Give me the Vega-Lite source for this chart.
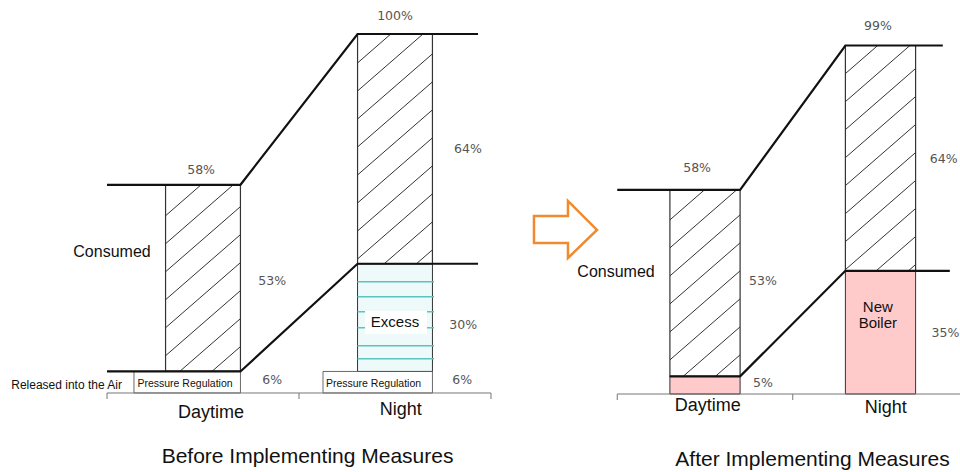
{
  "$schema": "https://vega.github.io/schema/vega-lite/v6.json",
  "padding": 0,
  "spacing": 0,
  "bounds": "flush",
  "background": "white",
  "config": {"view": {"stroke": null}, "font": "Liberation Sans"},
  "hconcat": [
    {
      "width": 480,
      "height": 472,
      "encoding": {
        "x": {"field": "x", "type": "quantitative", "scale": {"domain": [-1.1146, 3.8854], "nice": false, "zero": false}, "axis": null},
        "y": {"field": "y", "type": "quantitative", "scale": {"domain": [-22.006, 109.47], "nice": false, "zero": false}, "axis": null}
      },
      "layer": [
        {
          "data": {"values": [{"part": "Excess", "x": 2.61, "x2": 3.39, "y": 6, "y2": 36}]},
          "mark": {"type": "rect", "fill": "#eefafa", "stroke": "#333", "strokeWidth": 1},
          "encoding": {"x2": {"field": "x2"}, "y2": {"field": "y2"}}
        },
        {
          "data": {"values": [
            {"part": "Daytime consumed", "x": 0.61, "x2": 1.39, "y": 6, "y2": 58},
            {"part": "Night consumed", "x": 2.61, "x2": 3.39, "y": 36, "y2": 100}
          ]},
          "mark": {"type": "rect", "fill": "white", "stroke": "#333", "strokeWidth": 1.2},
          "encoding": {"x2": {"field": "x2"}, "y2": {"field": "y2"}}
        },
        {
          "data": {"values": [{"x": 1, "y": 58}]},
          "mark": {"type": "point", "filled": false, "stroke": "#333", "strokeWidth": 1, "opacity": 1, "size": 4,
            "shape": "M-37.5 31L-1.9 0M-37.5 59L30.3 0M-37.5 87L37.5 21.8M-37.5 115L37.5 49.8M-37.5 143L37.5 77.8M-37.5 171L37.5 105.8M-23.7 187L37.5 133.8M8.5 187L37.5 161.8"}
        },
        {
          "data": {"values": [{"x": 3, "y": 100}]},
          "mark": {"type": "point", "filled": false, "stroke": "#333", "strokeWidth": 1, "opacity": 1, "size": 4,
            "shape": "M-37.5 29L-4.2 0M-37.5 57L28 0M-37.5 85L37.5 19.8M-37.5 113L37.5 47.8M-37.5 141L37.5 75.8M-37.5 169L37.5 103.8M-37.5 197L37.5 131.8M-37.5 225L37.5 159.8M-11.1 230L37.5 187.8M21.1 230L37.5 215.8"}
        },
        {
          "data": {"values": [{"x": 3, "y": 36}]},
          "mark": {"type": "point", "filled": false, "stroke": "#5cc3bf", "strokeWidth": 1.5, "opacity": 1, "size": 4,
            "shape": "M-37.5 18L39 18M-37.5 33L39 33M-37.5 48L39 48M-37.5 64L39 64M-37.5 82L39 82M-37.5 95L39 95"}
        },
        {
          "data": {"values": [
            {"part": "Pressure Regulation (day)", "x": 0.281, "x2": 1.39, "y": 0, "y2": 6},
            {"part": "Pressure Regulation (night)", "x": 2.25, "x2": 3.39, "y": 0, "y2": 6}
          ]},
          "mark": {"type": "rect", "fill": "white", "stroke": "#444", "strokeWidth": 0.8},
          "encoding": {"x2": {"field": "x2"}, "y2": {"field": "y2"}}
        },
        {
          "data": {"values": [{"x": 3, "y": 19.8}]},
          "mark": {"type": "point", "filled": true, "fill": "white", "strokeWidth": 0, "opacity": 1, "size": 4,
            "shape": "M-30 -11L32 -11L32 12L-30 12Z"}
        },
        {
          "data": {"values": [
            {"s": "upper", "i": 0, "x": 0, "y": 58},
            {"s": "upper", "i": 1, "x": 1.39, "y": 58},
            {"s": "upper", "i": 2, "x": 2.61, "y": 100},
            {"s": "upper", "i": 3, "x": 3.865, "y": 100},
            {"s": "lower", "i": 0, "x": 0, "y": 6},
            {"s": "lower", "i": 1, "x": 1.39, "y": 6},
            {"s": "lower", "i": 2, "x": 2.61, "y": 36},
            {"s": "lower", "i": 3, "x": 3.865, "y": 36}
          ]},
          "mark": {"type": "line", "color": "#111", "strokeWidth": 2.2},
          "encoding": {"detail": {"field": "s"}, "order": {"field": "i", "type": "quantitative"}}
        },
        {
          "data": {"values": [{"x": 0, "x2": 4, "y": 0}]},
          "mark": {"type": "rule", "color": "#777", "strokeWidth": 1},
          "encoding": {"x2": {"field": "x2"}}
        },
        {
          "data": {"values": [{"x": 0, "y": 0}, {"x": 2, "y": 0}, {"x": 4, "y": 0}]},
          "mark": {"type": "tick", "orient": "vertical", "size": 6, "thickness": 1, "color": "#777", "yOffset": 3, "opacity": 1}
        },
        {
          "data": {"values": [
            {"t": "58%", "x": 0.98, "y": 62.1},
            {"t": "100%", "x": 3.0, "y": 105.0},
            {"t": "64%", "x": 3.76, "y": 68.1},
            {"t": "53%", "x": 1.72, "y": 31.2},
            {"t": "30%", "x": 3.71, "y": 18.9},
            {"t": "6%", "x": 1.72, "y": 3.6},
            {"t": "6%", "x": 3.70, "y": 3.6}
          ]},
          "mark": {"type": "text", "font": "DejaVu Sans", "fontSize": 12.5, "fill": "#555", "align": "center", "baseline": "middle"},
          "encoding": {"text": {"field": "t"}}
        },
        {
          "data": {"values": [{"t": "Consumed", "x": 0.052, "y": 38.0}]},
          "mark": {"type": "text", "fontSize": 16, "fill": "#111", "align": "center", "baseline": "alphabetic"},
          "encoding": {"text": {"field": "t"}}
        },
        {
          "data": {"values": [{"t": "Excess", "x": 3.0, "y": 18.3}]},
          "mark": {"type": "text", "fontSize": 15, "fill": "#111", "align": "center", "baseline": "alphabetic"},
          "encoding": {"text": {"field": "t"}}
        },
        {
          "data": {"values": [{"t": "Released into the Air", "x": 0.156, "y": 1.1}]},
          "mark": {"type": "text", "fontSize": 12, "fill": "#111", "align": "right", "baseline": "alphabetic"},
          "encoding": {"text": {"field": "t"}}
        },
        {
          "data": {"values": [{"t": "Pressure Regulation", "x": 0.8125, "y": 1.7}, {"t": "Pressure Regulation", "x": 2.776, "y": 1.7}]},
          "mark": {"type": "text", "fontSize": 10.5, "fill": "#111", "align": "center", "baseline": "alphabetic"},
          "encoding": {"text": {"field": "t"}}
        },
        {
          "data": {"values": [{"t": "Daytime", "x": 1.083, "y": -7.0}, {"t": "Night", "x": 3.06, "y": -6.1}]},
          "mark": {"type": "text", "fontSize": 18, "fill": "#111", "align": "center", "baseline": "alphabetic"},
          "encoding": {"text": {"field": "t"}}
        },
        {
          "data": {"values": [{"t": "Before Implementing Measures", "x": 2.089, "y": -19.5}]},
          "mark": {"type": "text", "fontSize": 21, "fill": "#111", "align": "center", "baseline": "alphabetic"},
          "encoding": {"text": {"field": "t"}}
        }
      ]
    },
    {
      "width": 480,
      "height": 472,
      "encoding": {
        "x": {"field": "x", "type": "quantitative", "scale": {"domain": [-1.5641, 3.906], "nice": false, "zero": false}, "axis": null},
        "y": {"field": "y", "type": "quantitative", "scale": {"domain": [-22.159, 111.932], "nice": false, "zero": false}, "axis": null}
      },
      "layer": [
        {
          "data": {"values": [
            {"part": "Daytime new boiler", "x": 0.6, "x2": 1.4, "y": 0, "y2": 5},
            {"part": "Night new boiler", "x": 2.6, "x2": 3.4, "y": 0, "y2": 35}
          ]},
          "mark": {"type": "rect", "fill": "#ffcaca", "stroke": "#333", "strokeWidth": 1},
          "encoding": {"x2": {"field": "x2"}, "y2": {"field": "y2"}}
        },
        {
          "data": {"values": [
            {"part": "Daytime consumed", "x": 0.6, "x2": 1.4, "y": 5, "y2": 58},
            {"part": "Night consumed", "x": 2.6, "x2": 3.4, "y": 35, "y2": 99}
          ]},
          "mark": {"type": "rect", "fill": "white", "stroke": "#333", "strokeWidth": 1.2},
          "encoding": {"x2": {"field": "x2"}, "y2": {"field": "y2"}}
        },
        {
          "data": {"values": [{"x": 1, "y": 58}]},
          "mark": {"type": "point", "filled": false, "stroke": "#333", "strokeWidth": 1, "opacity": 1, "size": 4,
            "shape": "M-35 30L-0.5 0M-35 58L31.7 0M-35 86L35 25.1M-35 114L35 53.1M-35 142L35 81.1M-35 170L35 109.1M-22.4 187L35 137.1M9.8 187L35 165.1"}
        },
        {
          "data": {"values": [{"x": 3, "y": 99}]},
          "mark": {"type": "point", "filled": false, "stroke": "#333", "strokeWidth": 1, "opacity": 1, "size": 4,
            "shape": "M-35 28L-2.8 0M-35 56L29.4 0M-35 84L35 23.1M-35 112L35 51.1M-35 140L35 79.1M-35 168L35 107.1M-35 196L35 135.1M-35 224L35 163.1M-4 225L35 191.1M28.2 225L35 219.1"}
        },
        {
          "data": {"values": [
            {"s": "upper", "i": 0, "x": 0, "y": 58},
            {"s": "upper", "i": 1, "x": 1.4, "y": 58},
            {"s": "upper", "i": 2, "x": 2.6, "y": 99},
            {"s": "upper", "i": 3, "x": 3.71, "y": 99},
            {"s": "lower", "i": 0, "x": 0.6, "y": 5},
            {"s": "lower", "i": 1, "x": 1.4, "y": 5},
            {"s": "lower", "i": 2, "x": 2.6, "y": 35},
            {"s": "lower", "i": 3, "x": 3.79, "y": 35}
          ]},
          "mark": {"type": "line", "color": "#111", "strokeWidth": 2.2},
          "encoding": {"detail": {"field": "s"}, "order": {"field": "i", "type": "quantitative"}}
        },
        {
          "data": {"values": [{"x": 0, "x2": 4, "y": 0}]},
          "mark": {"type": "rule", "color": "#777", "strokeWidth": 1},
          "encoding": {"x2": {"field": "x2"}}
        },
        {
          "data": {"values": [{"x": 0, "y": 0}, {"x": 2, "y": 0}, {"x": 4, "y": 0}]},
          "mark": {"type": "tick", "orient": "vertical", "size": 6, "thickness": 1, "color": "#777", "yOffset": 3, "opacity": 1}
        },
        {
          "data": {"values": [{"x": -0.59, "y": 46.6}]},
          "mark": {"type": "point", "filled": true, "fill": "white", "stroke": "#ef8a2e", "strokeWidth": 2.5, "opacity": 1, "size": 4,
            "shape": "M-31.5 -14L2.5 -14L2.5 -29L31.5 0L2.5 28L2.5 13L-31.5 13Z"}
        },
        {
          "data": {"values": [
            {"t": "99%", "x": 2.97, "y": 104.5},
            {"t": "58%", "x": 0.91, "y": 64.2},
            {"t": "64%", "x": 3.72, "y": 66.8},
            {"t": "53%", "x": 1.66, "y": 32.2},
            {"t": "35%", "x": 3.74, "y": 17.3},
            {"t": "5%", "x": 1.66, "y": 3.1}
          ]},
          "mark": {"type": "text", "font": "DejaVu Sans", "fontSize": 12.5, "fill": "#555", "align": "center", "baseline": "middle"},
          "encoding": {"text": {"field": "t"}}
        },
        {
          "data": {"values": [{"t": "Consumed", "x": -0.014, "y": 33.2}]},
          "mark": {"type": "text", "fontSize": 16, "fill": "#111", "align": "center", "baseline": "alphabetic"},
          "encoding": {"text": {"field": "t"}}
        },
        {
          "data": {"values": [{"t": "New", "x": 2.97, "y": 23.4}, {"t": "Boiler", "x": 2.97, "y": 18.75}]},
          "mark": {"type": "text", "fontSize": 15, "fill": "#111", "align": "center", "baseline": "alphabetic"},
          "encoding": {"text": {"field": "t"}}
        },
        {
          "data": {"values": [{"t": "Daytime", "x": 1.03, "y": -4.7}, {"t": "Night", "x": 3.06, "y": -5.4}]},
          "mark": {"type": "text", "fontSize": 18, "fill": "#111", "align": "center", "baseline": "alphabetic"},
          "encoding": {"text": {"field": "t"}}
        },
        {
          "data": {"values": [{"t": "After Implementing Measures", "x": 2.225, "y": -20.4}]},
          "mark": {"type": "text", "fontSize": 21, "fill": "#111", "align": "center", "baseline": "alphabetic"},
          "encoding": {"text": {"field": "t"}}
        }
      ]
    }
  ]
}
